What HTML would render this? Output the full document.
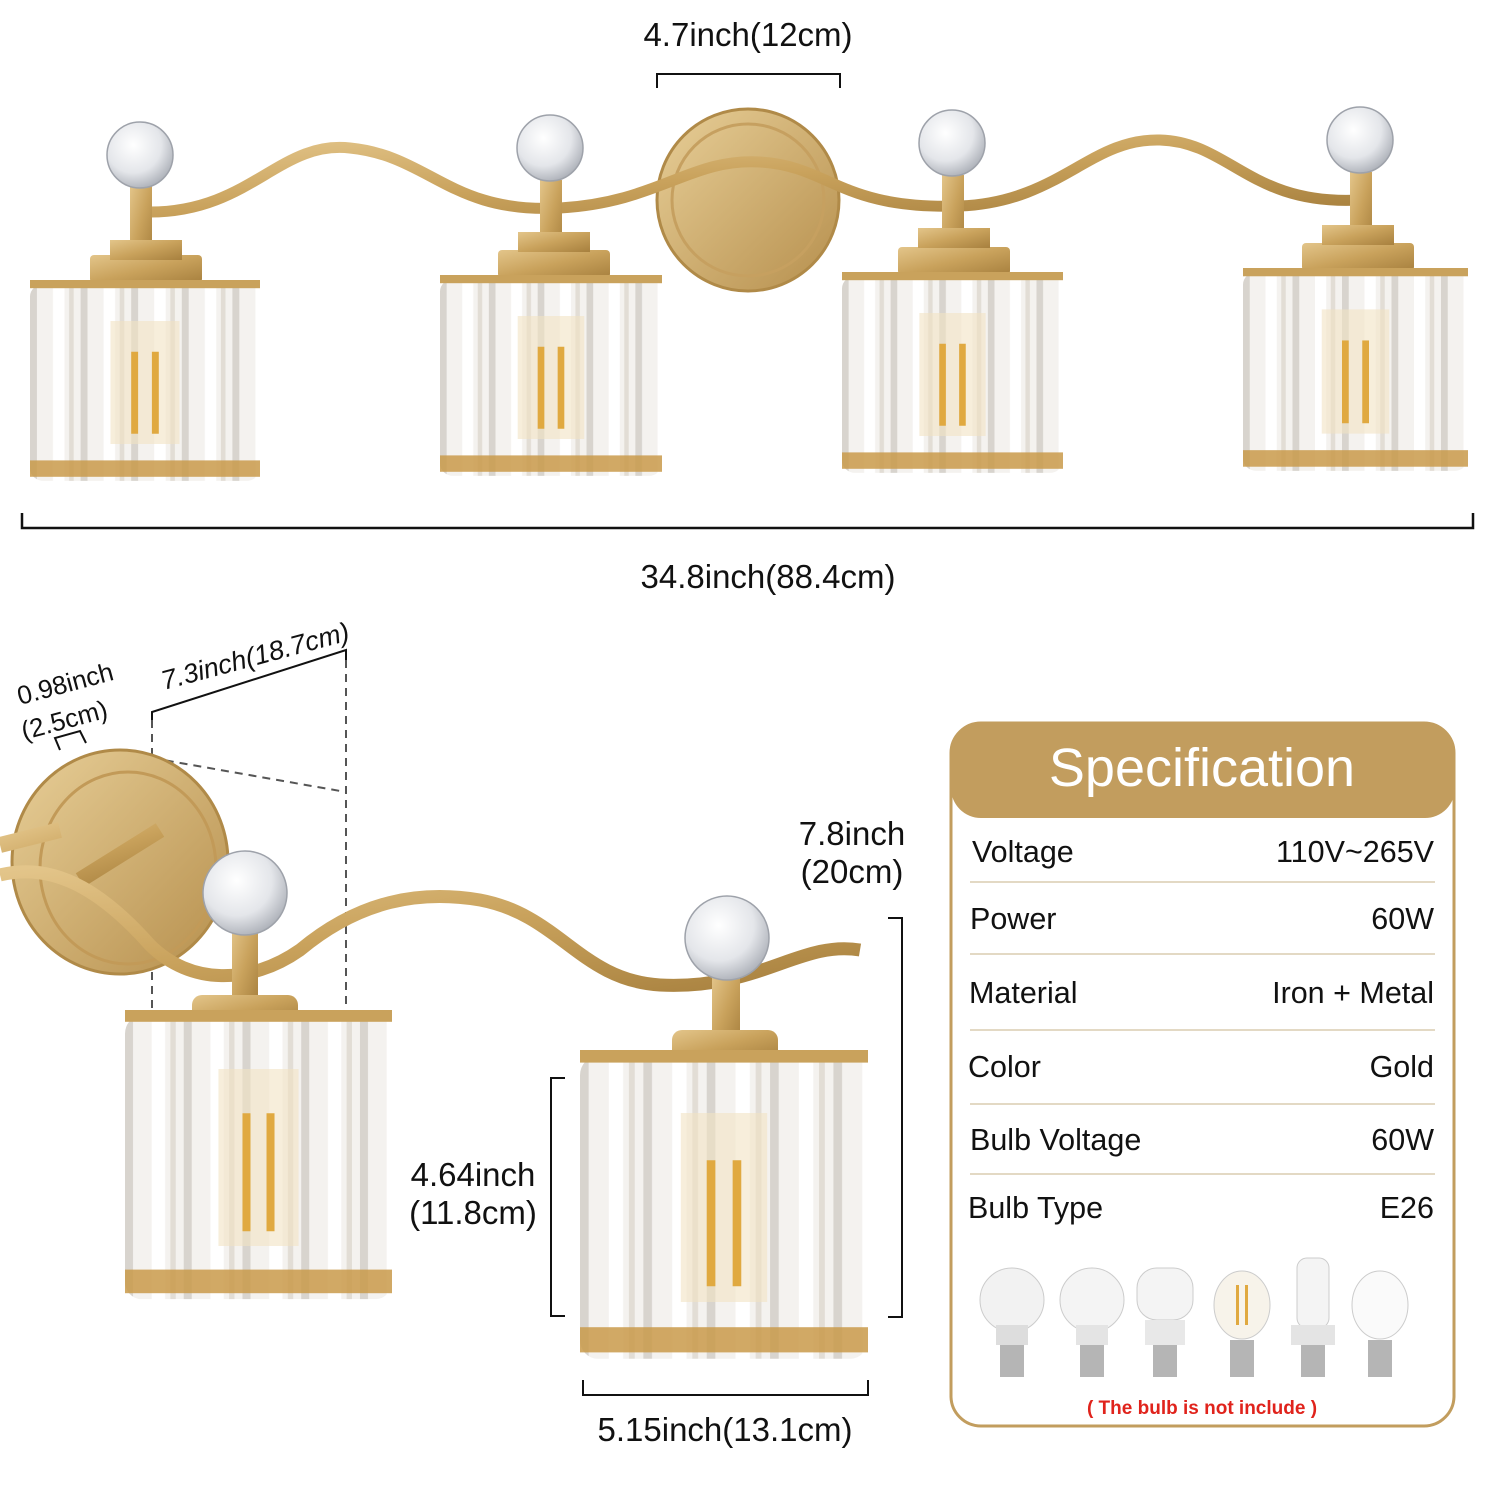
<!DOCTYPE html>
<html><head><meta charset="utf-8"><style>
html,body{margin:0;padding:0;background:#fff}
svg{display:block}
text{font-family:"Liberation Sans",sans-serif}
</style></head><body>
<svg width="1500" height="1500" viewBox="0 0 1500 1500" xmlns="http://www.w3.org/2000/svg">
<defs>
<linearGradient id="gold" x1="0" y1="0" x2="1" y2="1">
<stop offset="0" stop-color="#e3c58a"/><stop offset="0.5" stop-color="#c9a25c"/><stop offset="1" stop-color="#a7803e"/></linearGradient>
<linearGradient id="plate" x1="0" y1="0" x2="1" y2="1">
<stop offset="0" stop-color="#e8cf98"/><stop offset="1" stop-color="#b68f4d"/></linearGradient>
<pattern id="stripes" width="22" height="10" patternUnits="userSpaceOnUse">
<rect width="22" height="10" fill="#f4f2ef"/><rect x="0" width="3" height="10" fill="#d8d4ce"/><rect x="10" width="5" height="10" fill="#ffffff"/><rect x="17" width="2" height="10" fill="#e2ddd5"/></pattern>
<radialGradient id="ball" cx="0.4" cy="0.35" r="0.7">
<stop offset="0" stop-color="#ffffff"/><stop offset="0.6" stop-color="#e4e6ea"/><stop offset="1" stop-color="#a9adb5"/></radialGradient>
<symbol id="shade" viewBox="0 0 100 100" preserveAspectRatio="none">
<rect x="0" y="2" width="100" height="96" rx="6" fill="url(#stripes)"/>
<rect x="0" y="0" width="100" height="4" fill="#c9a25c"/>
<rect x="0" y="88" width="100" height="8" fill="#c99a4a" opacity="0.85"/>
<rect x="35" y="20" width="30" height="60" fill="#f1e3c3" opacity="0.6"/>
<rect x="44" y="35" width="3" height="40" fill="#e0a940"/>
<rect x="53" y="35" width="3" height="40" fill="#e0a940"/>
</symbol>
</defs>

<text x="748" y="46" font-size="33" text-anchor="middle" fill="#111">4.7inch(12cm)</text>
<path d="M657 88 V74 H840 V88" fill="none" stroke="#111" stroke-width="2"/>

<circle cx="748" cy="200" r="91" fill="url(#plate)" stroke="#b08a48" stroke-width="3"/>
<circle cx="748" cy="200" r="76" fill="none" stroke="#c6a060" stroke-width="3"/>
<path d="M150 212 C250 212 280 140 350 148 C430 156 450 214 560 208 C660 202 690 158 760 162 C830 166 840 210 960 206 C1060 202 1090 138 1160 140 C1230 142 1250 206 1360 200" fill="none" stroke="url(#gold)" stroke-width="11"/>
<g fill="url(#gold)">
<rect x="130" y="185" width="22" height="75"/><rect x="90" y="255" width="112" height="28" rx="4"/><rect x="110" y="240" width="72" height="20"/>
<rect x="540" y="180" width="22" height="75"/><rect x="498" y="250" width="112" height="28" rx="4"/><rect x="518" y="232" width="72" height="20"/>
<rect x="942" y="175" width="22" height="75"/><rect x="898" y="247" width="112" height="28" rx="4"/><rect x="918" y="228" width="72" height="20"/>
<rect x="1350" y="172" width="22" height="75"/><rect x="1302" y="243" width="112" height="28" rx="4"/><rect x="1322" y="225" width="72" height="20"/>
</g>
<use href="#shade" x="30" y="280" width="230" height="205"/>
<use href="#shade" x="440" y="275" width="222" height="205"/>
<use href="#shade" x="842" y="272" width="221" height="205"/>
<use href="#shade" x="1243" y="268" width="225" height="207"/>
<g fill="url(#ball)" stroke="#9ea2aa" stroke-width="1.5">
<circle cx="140" cy="155" r="33"/><circle cx="550" cy="148" r="33"/><circle cx="952" cy="143" r="33"/><circle cx="1360" cy="140" r="33"/></g>

<path d="M22 513 V528 H1473 V513" fill="none" stroke="#111" stroke-width="2.5"/>
<text x="768" y="588" font-size="33" text-anchor="middle" fill="#111">34.8inch(88.4cm)</text>

<text transform="translate(20,705) rotate(-15)" font-size="26" fill="#111">0.98inch</text>
<text transform="translate(24,740) rotate(-15)" font-size="26" fill="#111">(2.5cm)</text>
<path d="M60 750 L55 738 L80 731 L86 743" fill="none" stroke="#111" stroke-width="2"/>
<text transform="translate(164,690) rotate(-15)" font-size="27" font-style="italic" fill="#111">7.3inch(18.7cm)</text>
<path d="M152 720 V712 L346 650 V660" fill="none" stroke="#111" stroke-width="2"/>
<line x1="152" y1="720" x2="152" y2="1020" stroke="#555" stroke-width="2" stroke-dasharray="8,6"/>
<line x1="346" y1="660" x2="346" y2="1020" stroke="#555" stroke-width="2" stroke-dasharray="8,6"/>
<line x1="152" y1="758" x2="346" y2="792" stroke="#555" stroke-width="2" stroke-dasharray="8,6"/>

<ellipse cx="120" cy="862" rx="108" ry="112" fill="url(#plate)" stroke="#b08a48" stroke-width="3"/>
<ellipse cx="128" cy="868" rx="88" ry="96" fill="none" stroke="#c29a58" stroke-width="3"/>
<path d="M0 845 L60 830 M80 880 L160 830" stroke="url(#gold)" stroke-width="16" fill="none"/>
<path d="M0 875 C60 860 110 900 150 945 C190 985 250 985 300 950 C360 900 420 890 480 900 C560 915 580 980 660 985 C760 990 800 940 860 950" fill="none" stroke="url(#gold)" stroke-width="13"/>
<g fill="url(#gold)">
<rect x="232" y="925" width="26" height="80"/><rect x="192" y="995" width="106" height="30" rx="10"/><rect x="182" y="1020" width="140" height="40" rx="10"/>
<rect x="712" y="975" width="28" height="70"/><rect x="672" y="1030" width="106" height="30" rx="10"/><rect x="655" y="1050" width="142" height="45" rx="10"/>
</g>
<use href="#shade" x="125" y="1010" width="267" height="295"/>
<use href="#shade" x="580" y="1050" width="288" height="315"/>
<circle cx="245" cy="893" r="42" fill="url(#ball)" stroke="#9ea2aa" stroke-width="1.5"/>
<circle cx="727" cy="938" r="42" fill="url(#ball)" stroke="#9ea2aa" stroke-width="1.5"/>

<text x="852" y="845" font-size="33" text-anchor="middle" fill="#111">7.8inch</text>
<text x="852" y="883" font-size="33" text-anchor="middle" fill="#111">(20cm)</text>
<path d="M888 918 H902 V1317 H888" fill="none" stroke="#111" stroke-width="2"/>
<text x="473" y="1186" font-size="33" text-anchor="middle" fill="#111">4.64inch</text>
<text x="473" y="1224" font-size="33" text-anchor="middle" fill="#111">(11.8cm)</text>
<path d="M565 1078 H551 V1316 H565" fill="none" stroke="#111" stroke-width="2"/>
<path d="M583 1380 V1395 H868 V1380" fill="none" stroke="#111" stroke-width="2"/>
<text x="725" y="1441" font-size="33" text-anchor="middle" fill="#111">5.15inch(13.1cm)</text>

<rect x="951" y="723" width="503" height="703" rx="30" fill="#fff" stroke="#c29d5e" stroke-width="3"/>
<rect x="951" y="722" width="504" height="96" rx="30" fill="#c29d5e"/>
<text x="1202" y="786" font-size="54" text-anchor="middle" fill="#fff">Specification</text>
<g font-size="30.5" fill="#111">
<text x="972" y="862">Voltage</text><text x="1434" y="862" text-anchor="end">110V~265V</text>
<text x="970" y="929">Power</text><text x="1434" y="929" text-anchor="end">60W</text>
<text x="969" y="1003">Material</text><text x="1434" y="1003" text-anchor="end">Iron + Metal</text>
<text x="968" y="1077">Color</text><text x="1434" y="1077" text-anchor="end">Gold</text>
<text x="970" y="1150">Bulb Voltage</text><text x="1434" y="1150" text-anchor="end">60W</text>
<text x="968" y="1218">Bulb Type</text><text x="1434" y="1218" text-anchor="end">E26</text>
</g>
<g stroke="#e3d9c4" stroke-width="2">
<line x1="970" y1="882" x2="1435" y2="882"/><line x1="970" y1="954" x2="1435" y2="954"/>
<line x1="970" y1="1030" x2="1435" y2="1030"/><line x1="970" y1="1104" x2="1435" y2="1104"/>
<line x1="970" y1="1174" x2="1435" y2="1174"/></g>
<g>
<g transform="translate(1012,0)"><ellipse cx="0" cy="1300" rx="32" ry="32" fill="#f2f2f2" stroke="#ccc"/><rect x="-16" y="1325" width="32" height="20" fill="#ddd"/><rect x="-12" y="1345" width="24" height="32" fill="#b5b5b5"/></g>
<g transform="translate(1092,0)"><ellipse cx="0" cy="1300" rx="32" ry="32" fill="#f4f4f4" stroke="#ccc"/><rect x="-16" y="1325" width="32" height="20" fill="#e4e4e4"/><rect x="-12" y="1345" width="24" height="32" fill="#b5b5b5"/></g>
<g transform="translate(1165,0)"><rect x="-28" y="1268" width="56" height="52" rx="20" fill="#f4f4f4" stroke="#ccc"/><rect x="-20" y="1320" width="40" height="25" fill="#e8e8e8"/><rect x="-12" y="1345" width="24" height="32" fill="#b5b5b5"/></g>
<g transform="translate(1242,0)"><ellipse cx="0" cy="1305" rx="28" ry="34" fill="#f7f3ea" stroke="#ccc"/><rect x="-6" y="1285" width="3" height="40" fill="#e0a940"/><rect x="3" y="1285" width="3" height="40" fill="#e0a940"/><rect x="-12" y="1340" width="24" height="37" fill="#b5b5b5"/></g>
<g transform="translate(1313,0)"><rect x="-16" y="1258" width="32" height="70" rx="10" fill="#f4f4f4" stroke="#ccc"/><rect x="-22" y="1325" width="44" height="20" fill="#e4e4e4"/><rect x="-12" y="1345" width="24" height="32" fill="#b5b5b5"/></g>
<g transform="translate(1380,0)"><ellipse cx="0" cy="1305" rx="28" ry="34" fill="#fafafa" stroke="#ccc"/><rect x="-12" y="1340" width="24" height="37" fill="#b5b5b5"/></g>
</g>
<text x="1202" y="1414" font-size="19" font-weight="bold" text-anchor="middle" fill="#e0231c">( The bulb is not include )</text>
</svg>
</body></html>
